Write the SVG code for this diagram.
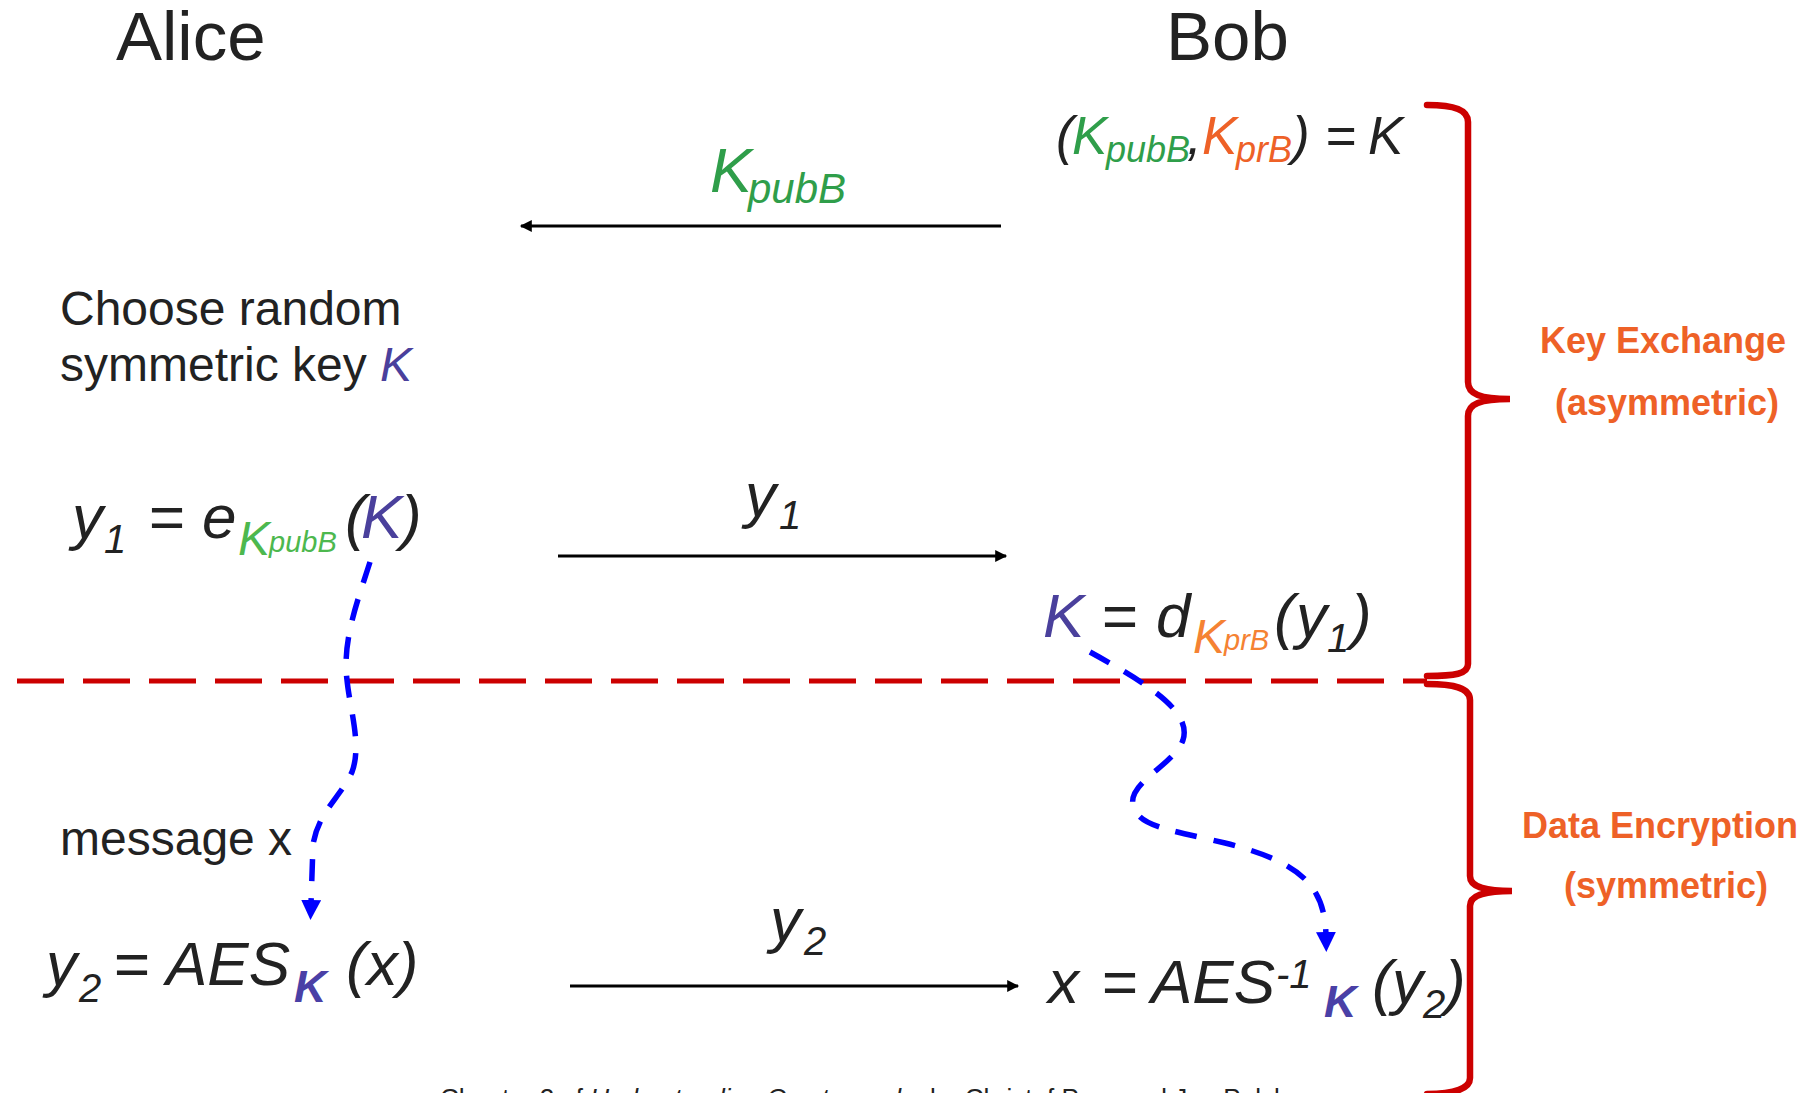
<svg xmlns="http://www.w3.org/2000/svg" width="1816" height="1093" viewBox="0 0 1816 1093">
<defs>
<style>
text{font-family:"Liberation Sans",Arial,sans-serif;fill:#222}
.f{font-style:italic}
.title{font-size:69px}
.plain{font-size:48px}
.m{font-size:62px;font-style:italic}
.s{font-size:40px;font-style:italic}
.ks{font-size:48px;font-style:italic}
.ss{font-size:29px;font-style:italic}
.kb{font-size:45px;font-style:italic;font-weight:bold;fill:#4A40A6}
.blue{fill:#4A409C}
.g1{fill:#2F9E4A}
.g2{fill:#4DB84E}
.o1{fill:#EE6127}
.o2{fill:#F58233}
.lbl{font-size:36px;font-weight:bold;fill:#EE6127;text-anchor:middle}
.msg{stroke:#000;stroke-width:3;fill:none}
.flow{stroke:#0000FF;stroke-width:5.5;fill:none;stroke-dasharray:22 17}
.brace{stroke:#CC0000;stroke-width:6.5;fill:none;stroke-linecap:round}
</style>
<marker id="ah" viewBox="0 0 10 10" refX="9" refY="5" markerUnits="userSpaceOnUse" markerWidth="16" markerHeight="12" orient="auto">
<path d="M0,0 L10,5 L0,10 Z" fill="#000"/>
</marker>
<marker id="bh" viewBox="0 0 10 10" refX="2" refY="5" markerUnits="userSpaceOnUse" markerWidth="20" markerHeight="20" orient="auto">
<path d="M0,0 L10,5 L0,10 Z" fill="#0000FF"/>
</marker>
</defs>

<g id="alice"><text class="title" x="116" y="60">Alice</text></g>
<g id="bob"><text class="title" x="1166" y="60">Bob</text></g>

<g id="bob-keys">
<text class="f" style="font-size:53px" x="1056" y="154">(</text>
<text class="g1 f" style="font-size:53px" x="1072" y="154">K</text>
<text class="g1 f" style="font-size:36px" x="1106" y="162">pubB</text>
<text class="f" style="font-size:53px" x="1187" y="154">,</text>
<text class="o1 f" style="font-size:53px" x="1202" y="154">K</text>
<text class="o1 f" style="font-size:36px" x="1236" y="162">prB</text>
<text class="f" style="font-size:53px" x="1292" y="154">)</text>
<text class="f" style="font-size:53px" x="1325" y="154">=</text>
<text class="f" style="font-size:53px" x="1368" y="154">K</text>
</g>

<g id="kpub-label">
<text class="g1 f" style="font-size:63px" x="710" y="192">K</text>
<text class="g1 f" style="font-size:42px" x="748" y="203">pubB</text>
</g>

<g id="choose">
<text class="plain" x="60" y="325">Choose random</text>
<text class="plain" x="60" y="381">symmetric key <tspan class="f blue">K</tspan></text>
</g>

<g id="y1-eq">
<text class="m" x="72" y="538">y</text>
<text class="s" x="104" y="553">1</text>
<text class="m" x="148" y="538">=</text>
<text class="m" x="202" y="538">e</text>
<text class="ks g2" x="238" y="555">K</text>
<text class="ss g2" x="269" y="552">pubB</text>
<text class="m" x="345" y="538">(</text>
<text class="m blue" x="361" y="538">K</text>
<text class="m" x="401" y="538">)</text>
</g>

<g id="y1-label">
<text class="m" x="745" y="516">y</text>
<text class="s" x="779" y="529">1</text>
</g>

<g id="k-dec">
<text class="m blue" x="1043" y="637">K</text>
<text class="m" x="1101" y="637">=</text>
<text class="m" x="1156" y="637">d</text>
<text class="ks o2" x="1193" y="653">K</text>
<text class="ss o2" x="1224" y="650">prB</text>
<text class="m" x="1274" y="637">(</text>
<text class="m" x="1296" y="637">y</text>
<text class="s" x="1327" y="652">1</text>
<text class="m" x="1351" y="637">)</text>
</g>

<g id="message"><text class="plain" x="60" y="855">message x</text></g>

<g id="y2-eq">
<text class="m" x="46" y="985">y</text>
<text class="s" x="79" y="1002">2</text>
<text class="m" x="113" y="985">=</text>
<text class="m" x="166" y="985">AES</text>
<text class="kb" x="294" y="1002">K</text>
<text class="m" x="346" y="985">(x)</text>
</g>

<g id="y2-label">
<text class="m" x="770" y="941">y</text>
<text class="s" x="804" y="955">2</text>
</g>

<g id="x-dec">
<text class="m" x="1048" y="1003">x</text>
<text class="m" x="1101" y="1003">=</text>
<text class="m" x="1151" y="1003">AES</text>
<text class="s" x="1276" y="988">-1</text>
<text class="kb" x="1324" y="1017">K</text>
<text class="m" x="1372" y="1003">(</text>
<text class="m" x="1392" y="1003">y</text>
<text class="s" x="1423" y="1018">2</text>
<text class="m" x="1445" y="1003">)</text>
</g>

<g id="labels">
<text class="lbl" x="1663" y="353">Key Exchange</text>
<text class="lbl" x="1667" y="415">(asymmetric)</text>
<text class="lbl" x="1660" y="838">Data Encryption</text>
<text class="lbl" x="1666" y="898">(symmetric)</text>
</g>

<g id="footer">
<text style="font-size:26px" x="440" y="1107">Chapter 2 of <tspan class="f">Understanding Cryptography</tspan> by Christof Paar and Jan Pelzl</text>
</g>

<g id="connectors">
<line class="msg" x1="1001" y1="226" x2="521" y2="226" marker-end="url(#ah)"/>
<line class="msg" x1="558" y1="556" x2="1006" y2="556" marker-end="url(#ah)"/>
<line class="msg" x1="570" y1="986" x2="1018" y2="986" marker-end="url(#ah)"/>
<line x1="17" y1="681" x2="1427" y2="681" stroke="#CC0000" stroke-width="5" stroke-dasharray="47 19"/>
<path class="flow" d="M370,562 C358,600 342,640 347,680 C350,710 362,745 352,772 C340,798 318,812 313,845 L311,904" marker-end="url(#bh)"/>
<path class="flow" d="M1090,652 C1150,685 1192,712 1183,740 C1174,765 1128,782 1133,805 C1138,826 1165,829 1225,843 C1300,862 1325,885 1326,936" marker-end="url(#bh)"/>
<path class="brace" d="M1427,105 C1455,105 1468,110 1468,122 L1468,382 C1468,394 1480,399 1510,399 C1480,399 1468,404 1468,416 L1468,664 C1468,674 1455,676 1427,676"/>
<path class="brace" d="M1427,684 C1455,684 1470,688 1470,700 L1470,876 C1470,886 1482,891 1512,891 C1482,891 1470,896 1470,906 L1470,1078 C1470,1088 1455,1094 1427,1094"/>
</g>
</svg>
